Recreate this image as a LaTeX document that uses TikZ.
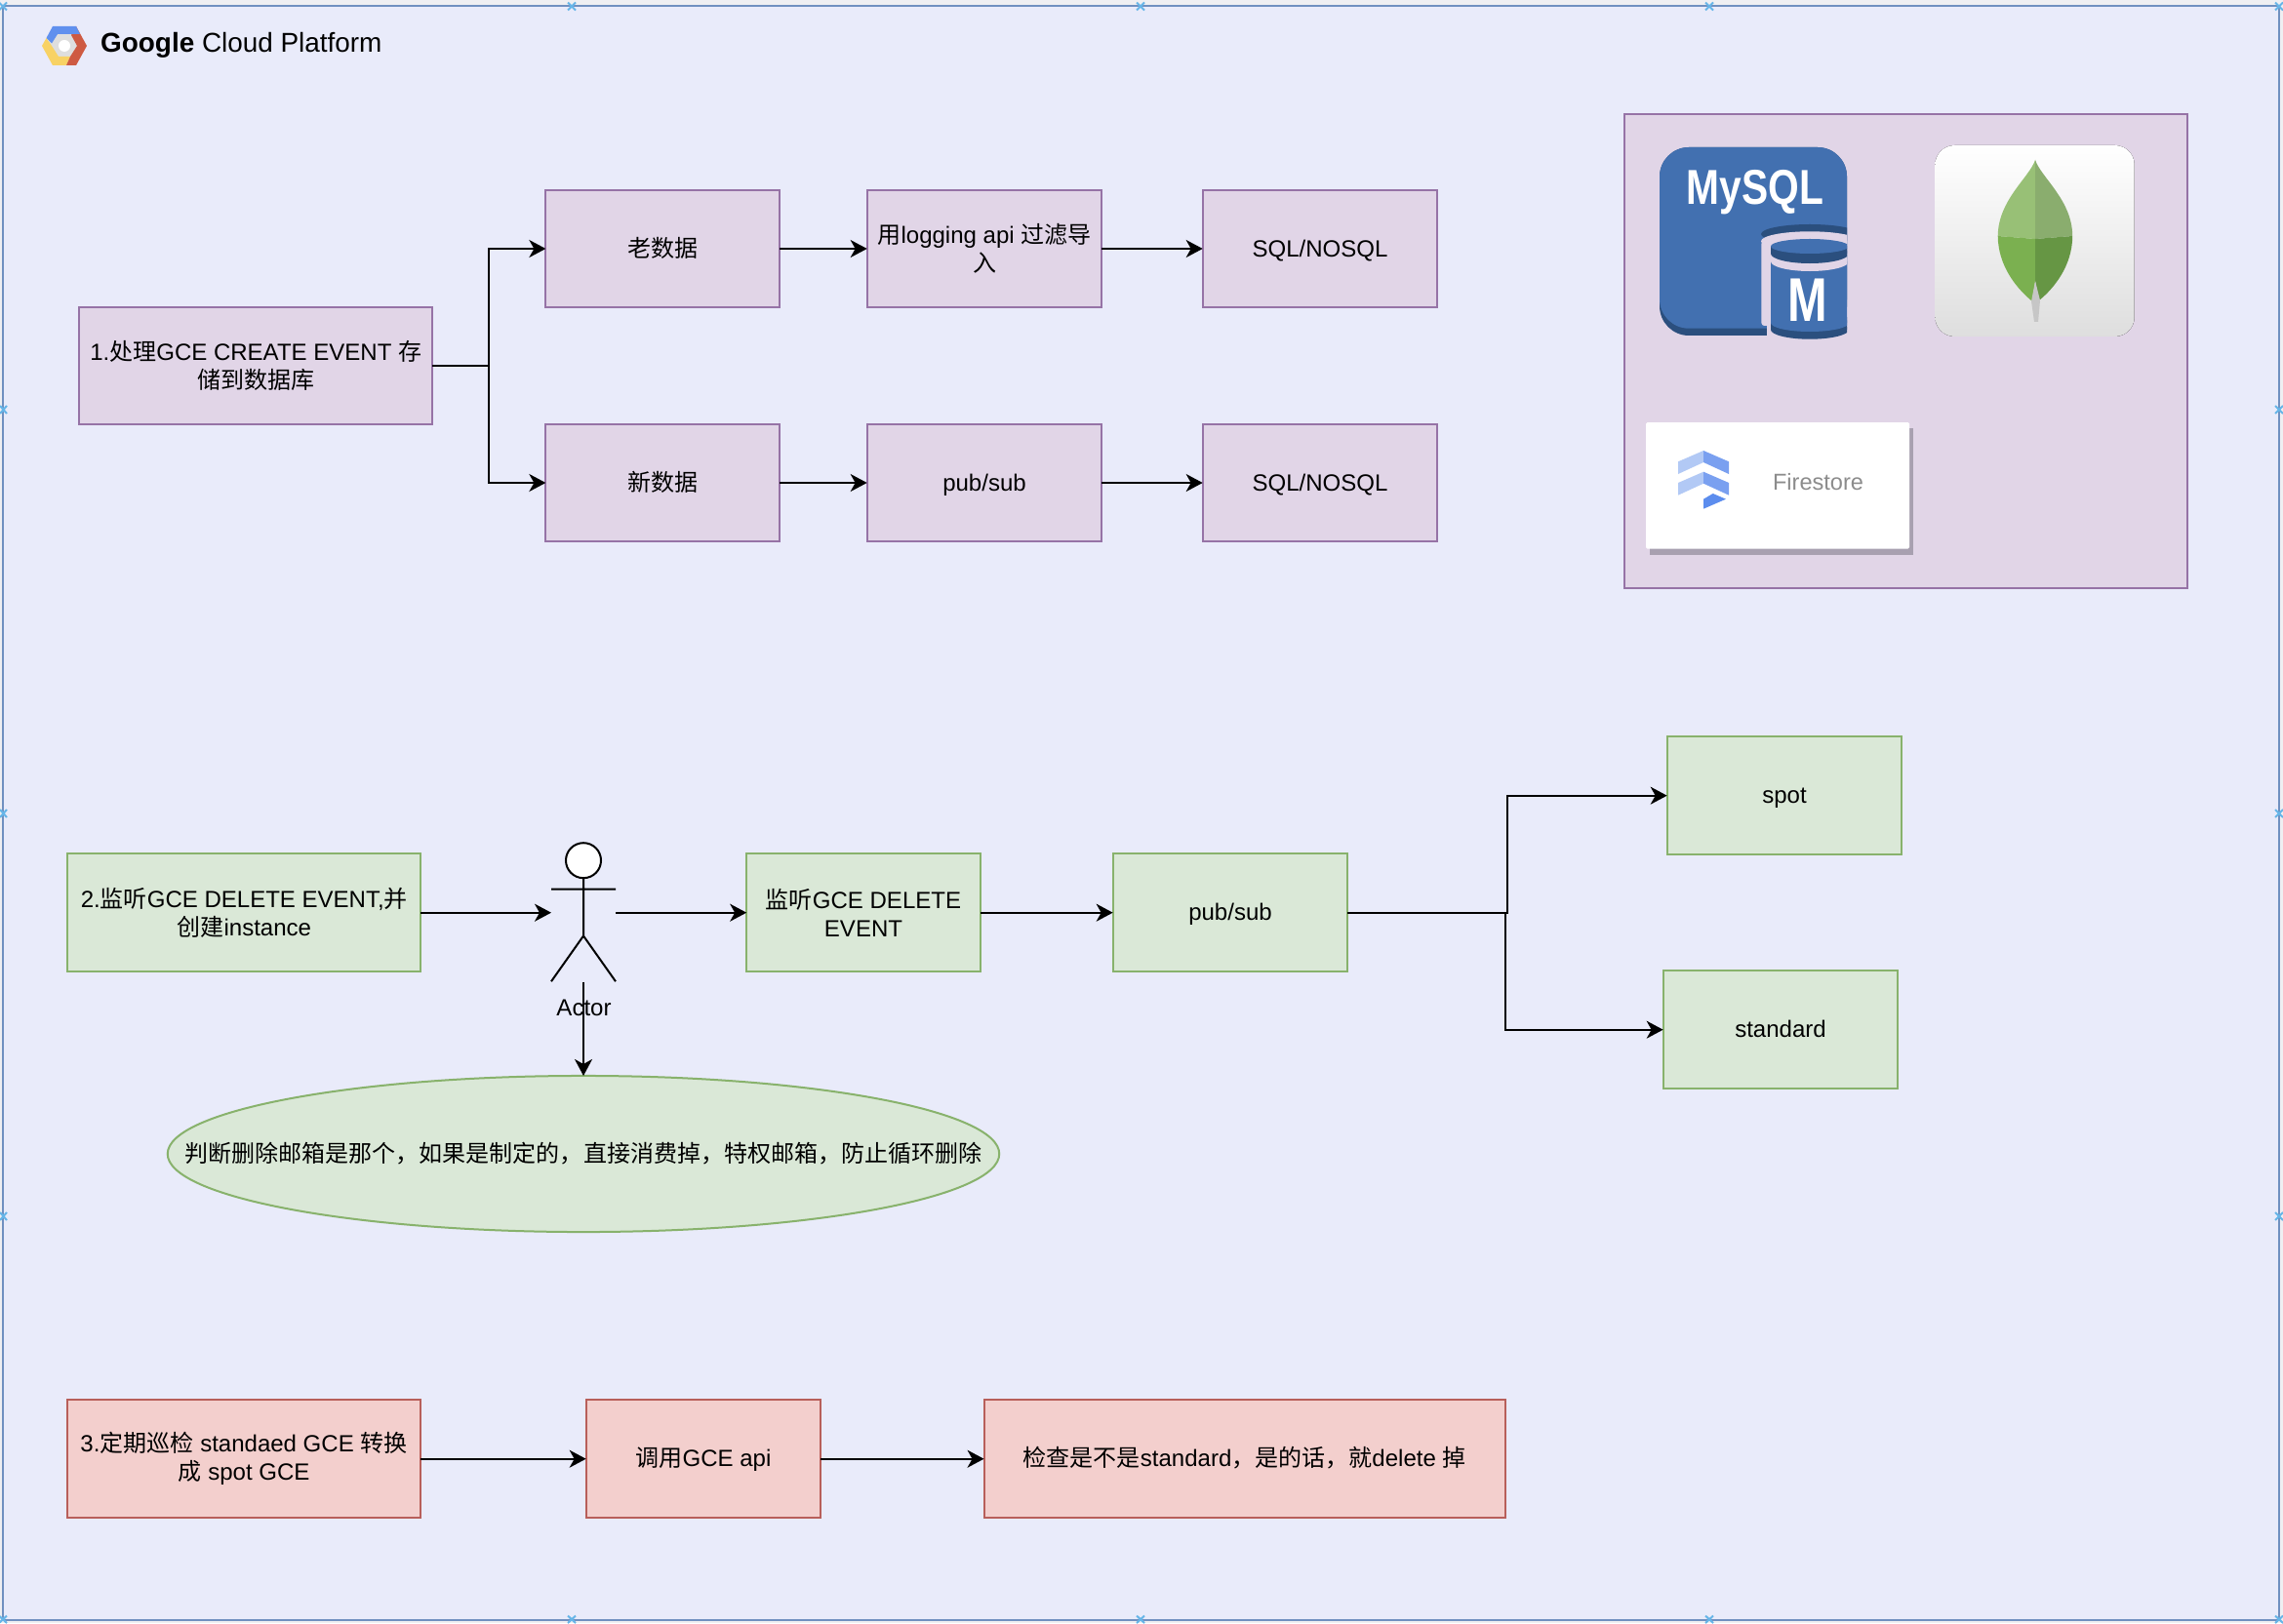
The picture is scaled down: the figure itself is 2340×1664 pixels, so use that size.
\documentclass[tikz,border=0pt]{standalone}
\usepackage{fontspec}
\usepackage{xcolor}
\usepackage{tikz}
\usetikzlibrary{arrows.meta,shapes.geometric}
\setmainfont{Liberation Sans}
\newfontfamily\cjk{Noto Sans CJK SC}
\definecolor{ink}{HTML}{000000}
\definecolor{outside}{HTML}{EFEFF2}
\definecolor{canvas}{HTML}{E9EBFA}
\definecolor{frameline}{HTML}{7090C0}
\definecolor{handle}{HTML}{66B5E8}
\definecolor{purplepale}{HTML}{E1D5E7}
\definecolor{purpleline}{HTML}{9673A6}
\definecolor{greenpale}{HTML}{DAE8D7}
\definecolor{greenline}{HTML}{88B26C}
\definecolor{redpale}{HTML}{F3CFCD}
\definecolor{redline}{HTML}{B85F5A}
\definecolor{sqlblue}{HTML}{4270B0}
\definecolor{sqldark}{HTML}{2B4F7E}
\definecolor{gcpblue}{HTML}{6090EE}
\definecolor{gcpred}{HTML}{CE5A42}
\definecolor{gcpyellow}{HTML}{F8D264}
\definecolor{gcpgray}{HTML}{DEDEDE}
\definecolor{tiletop}{HTML}{FFFFFF}
\definecolor{tilemid}{HTML}{F0F0F0}
\definecolor{tilelow}{HTML}{DEDEDE}
\definecolor{leafa}{HTML}{98C076}
\definecolor{leafb}{HTML}{8AAD6E}
\definecolor{leafc}{HTML}{7BB050}
\definecolor{leafd}{HTML}{669644}
\definecolor{firea}{HTML}{B2C9F5}
\definecolor{fireb}{HTML}{7AA0F0}
\definecolor{firec}{HTML}{5C8DEE}
\definecolor{cardshadow}{HTML}{A8A0B0}
\tikzset{
  >={Stealth[length=1.7mm,width=1.8mm,inset=.5mm]},
  label/.style={font=\fontsize{6.83}{8.25}\selectfont, align=center, inner sep=0pt, text=ink},
  oneline/.style={text height=6.2pt, text depth=1.6pt},
  boxbase/.style={label, draw, line width=.02cm, outer sep=0pt, minimum width=2.405cm, minimum height=1.205cm},
  boxpurple/.style={boxbase, fill=purplepale, draw=purpleline},
  boxgreen/.style={boxbase, fill=greenpale, draw=greenline},
  boxred/.style={boxbase, fill=redpale, draw=redline},
  flow/.style={->, line width=.02cm, color=ink},
  stick/.style={line width=.02cm, color=ink},
  handlemark/.style={handle, line width=.02cm}
}
\begin{document}
\begin{tikzpicture}[x=.01cm,y=-.01cm]
  \useasboundingbox (0,0) rectangle (2340,1664);
  \fill[outside] (0,0) rectangle (2340,1664);
  \draw[fill=canvas,draw=frameline,line width=.02cm] (3,6.5) rectangle (2336,1660.5);
  \foreach \x in {3,586,1169,1752,2336}{
    \draw[handlemark] (\x-4,2.5)--(\x+4,10.5) (\x-4,10.5)--(\x+4,2.5);
    \draw[handlemark] (\x-4,1656.5)--(\x+4,1664) (\x-4,1664)--(\x+4,1656.5);
  }
  \foreach \y in {420,834,1247}{
    \draw[handlemark] (0,\y-4)--(7,\y+4) (0,\y+4)--(7,\y-4);
    \draw[handlemark] (2332,\y-4)--(2340,\y+4) (2332,\y+4)--(2340,\y-4);
  }

  % gcp logo
  \fill[gcpgray] (54,35)--(78,35)--(86,47)--(78,60)--(54,60)--(47,47)--cycle;
  \fill[gcpyellow] (43,47)--(47.5,39)--(53,47)--(60,58)--(72,58)--(68,67)--(54,67)--cycle;
  \fill[gcpred] (78,27)--(89,47)--(78,67)--(68,67)--(72,58)--(79,47)--(73,36)--cycle;
  \fill[gcpblue] (54,27)--(78,27)--(82,35)--(59,35)--(53,44.5)--(47.5,39)--cycle;
  \fill[white] (66,47) circle[radius=.06cm];
  \node[anchor=west,inner sep=0pt,font=\fontsize{7.93}{9}\selectfont] (gcptitle) at (102.5,46.5)
    {\textbf{Google} Cloud Platform};

  % row one
  \node[boxpurple,minimum width=3.616cm] (create) at (262.2,375) {1.{\cjk 处理}GCE CREATE EVENT {\cjk 存}\\{\cjk 储到数据库}};
  \node[boxpurple,oneline,minimum width=2.395cm] (olddata) at (679.2,255) {\cjk 老数据};
  \node[boxpurple,oneline,minimum width=2.395cm] (newdata) at (679.2,495) {\cjk 新数据};
  \node[boxpurple] (logging) at (1009,255) {{\cjk 用}logging api {\cjk 过滤导}\\{\cjk 入}};
  \node[boxpurple,oneline] (pubsubnew) at (1009,495) {pub/sub};
  \node[boxpurple,oneline] (sqlold) at (1353,255) {SQL/NOSQL};
  \node[boxpurple,oneline] (sqlnew) at (1353,495) {SQL/NOSQL};
  \coordinate (forkone) at (501,375);
  \draw[flow] (create.east) -- (forkone) |- (olddata.west);
  \draw[flow] (forkone) |- (newdata.west);
  \draw[flow] (olddata) -- (logging);
  \draw[flow] (logging) -- (sqlold);
  \draw[flow] (newdata) -- (pubsubnew);
  \draw[flow] (pubsubnew) -- (sqlnew);

  % store panel
  \draw[fill=purplepale,draw=purpleline,line width=.02cm] (1664.6,116.7) rectangle (2241.7,603);

  % mysql icon
  \begin{scope}
    \clip (1695,140) rectangle (1893,360);
    \fill[sqldark,rounded corners=.3cm] (1701,151) rectangle (1893,344);
    \fill[sqlblue,rounded corners=.3cm] (1701,151) rectangle (1893,336.7);
    \fill[sqldark] (1855,240) ellipse[x radius=.5cm,y radius=.1cm];
    \fill[purplepale] (1855,247.3) ellipse[x radius=.5cm,y radius=.1cm];
    \fill[purplepale,rounded corners=.03cm] (1805.4,247) rectangle (1930,334);
    \fill[purplepale] (1811,330) rectangle (1930,350);
    \fill[sqldark] (1815.4,325) rectangle (1895,338);
    \fill[sqldark] (1855,338) ellipse[x radius=.4cm,y radius=.097cm];
    \fill[sqlblue] (1815.4,268) rectangle (1895,331);
    \fill[sqlblue] (1855,331) ellipse[x radius=.4cm,y radius=.09cm];
    \fill[purplepale] (1855,268) ellipse[x radius=.4cm,y radius=.1cm];
    \fill[sqldark] (1855,260) ellipse[x radius=.4cm,y radius=.1cm];
    \fill[sqldark] (1815.4,252.5) rectangle (1895,260);
    \fill[sqlblue] (1855,252.5) ellipse[x radius=.4cm,y radius=.075cm];
  \end{scope}
  \node[inner sep=0pt,text=white,font=\bfseries\fontsize{14.3}{16}\selectfont,xscale=.81] (mysqltext) at (1798.8,197) {MySQL};
  \node[inner sep=0pt,text=white,font=\bfseries\fontsize{18}{20}\selectfont,xscale=.77] (mysqlm) at (1853,308) {M};

  % mongodb icon
  \fill[rounded corners=.2cm,top color=tiletop,middle color=tilemid,bottom color=tilelow] (1983.4,149) rectangle (2187.7,345);
  \fill[leafa] (2086,164) .. controls (2080,182) and (2048,205) .. (2047.7,242) -- (2086,245) -- cycle;
  \fill[leafb] (2086,164) .. controls (2092,182) and (2124,205) .. (2124.2,242) -- (2086,245) -- cycle;
  \fill[leafc] (2047.7,242) .. controls (2048,272) and (2066,295) .. (2083,309) -- (2086,288) -- (2086,245) -- cycle;
  \fill[leafd] (2124.2,242) .. controls (2124,272) and (2106,295) .. (2090,308) -- (2086,288) -- (2086,245) -- cycle;
  \fill[gray!45] (2086,288) -- (2082,309) -- (2085,330) -- (2089,330) -- (2091,308) -- cycle;

  % firestore card
  \fill[cardshadow] (1691,439) rectangle (1961,569);
  \fill[white,rounded corners=.015cm] (1687,433) rectangle (1957,562.7);
  \foreach \d in {0,21.7}{
    \fill[firea] (1746,462+\d) -- (1720,473.3+\d) -- (1720,486+\d) -- (1746,474+\d) -- cycle;
    \fill[fireb] (1746,462+\d) -- (1772,473.3+\d) -- (1772,486+\d) -- (1746,474+\d) -- cycle;
  }
  \fill[firec] (1746,511.7) -- (1755.7,506) -- (1769,511.7) -- (1746,521.7) -- cycle;
  \node[inner sep=0pt,text=gray!90,font=\fontsize{6.7}{8}\selectfont] (firestoretext) at (1863.5,494.5) {Firestore};

  % row two
  \node[boxgreen,minimum width=3.62cm] (deleteevent) at (250.3,935.7) {2.{\cjk 监听}GCE DELETE EVENT,{\cjk 并}\\{\cjk 创建}instance};
  \node[boxgreen,minimum width=2.395cm] (listen) at (885,935.7) {{\cjk 监听}GCE DELETE\\EVENT};
  \node[boxgreen,oneline] (pubsubdel) at (1261,935.7) {pub/sub};
  \node[boxgreen,oneline] (spot) at (1829,815.7) {spot};
  \node[boxgreen,oneline] (standard) at (1825,1055.7) {standard};
  \node[ellipse,draw=greenline,fill=greenpale,line width=.02cm,outer sep=0pt,inner sep=0pt,minimum width=8.52cm,minimum height=1.6cm] (filtermail) at (598,1183) {};
  \node[label,oneline] (filtertext) at (598,1183)
    {\cjk 判断删除邮箱是那个，如果是制定的，直接消费掉，特权邮箱，防止循环删除};

  % actor
  \draw[stick,fill=white] (598,882.2) circle[radius=.18cm];
  \draw[stick] (598,900.5) -- (598,959.5) (565,911.5) -- (631,911.5)
    (565,1006.2) -- (598,959.5) -- (631,1006.2);
  \node[label,oneline] (actorlabel) at (598.5,1033.5) {Actor};
  \coordinate (actorin) at (565,935.7);
  \coordinate (actorout) at (631,935.7);
  \coordinate (actorfoot) at (598,1006.5);
  \coordinate (forkupper) at (1545,935.7);
  \coordinate (forklower) at (1543.2,935.7);
  \draw[flow] (deleteevent) -- (actorin);
  \draw[flow] (actorout) -- (listen);
  \draw[flow] (actorfoot) -- (filtermail);
  \draw[flow] (listen) -- (pubsubdel);
  \draw[flow] (pubsubdel.east) -- (forkupper) |- (spot.west);
  \draw[flow] (forklower) |- (standard.west);

  % row three
  \node[boxred,minimum width=3.61cm] (scan) at (250,1495.7) {3.{\cjk 定期巡检} standaed GCE {\cjk 转换}\\{\cjk 成} spot GCE};
  \node[boxred,oneline] (callapi) at (721,1495.7) {{\cjk 调用}GCE api};
  \node[boxred,oneline,minimum width=5.34cm] (checkdel) at (1275.7,1495.7) {{\cjk 检查是不是}standard{\cjk ，是的话，就}delete {\cjk 掉}};
  \draw[flow] (scan) -- (callapi);
  \draw[flow] (callapi) -- (checkdel);
\end{tikzpicture}
\end{document}
